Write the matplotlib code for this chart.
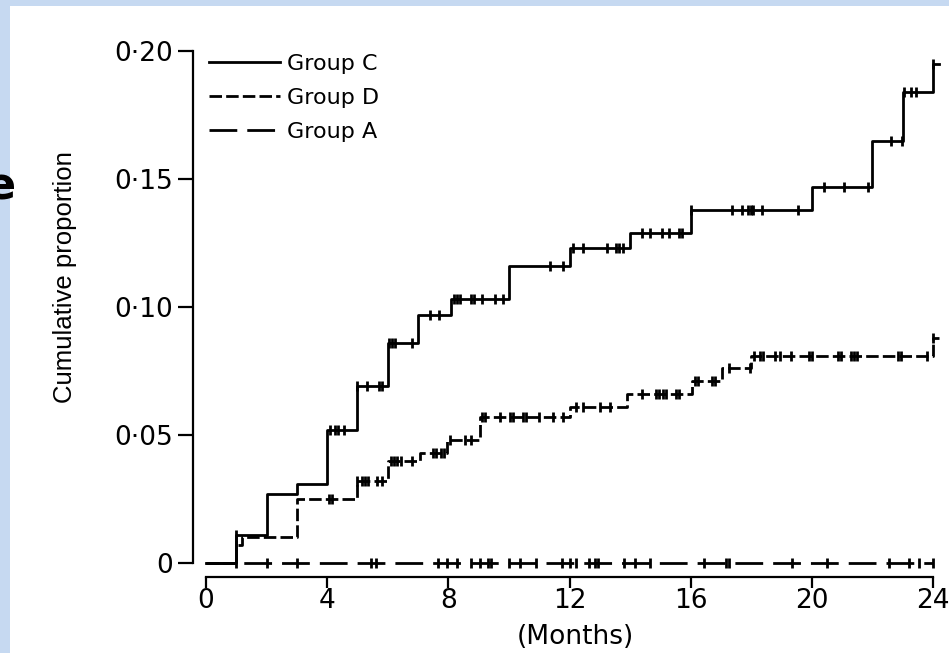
import numpy as np
import matplotlib
matplotlib.use("Agg")
import matplotlib.pyplot as plt
from matplotlib.patches import Rectangle

W, H = 949, 653

# Group C - solid line: step times (months) and cumulative proportion after each step
c_times = [0, 1.0, 2.0, 3.0, 4.0, 5.0, 6.0, 7.0, 8.1, 10.0, 12.0, 14.0, 16.0, 20.0, 22.0, 23.0, 24.0, 24.2]
c_cum = [0, 0.011, 0.027, 0.031, 0.052, 0.069, 0.086, 0.097, 0.103, 0.116, 0.123, 0.129,
         0.138, 0.147, 0.165, 0.184, 0.195, 0.195]
c_censored = [1.0, 4.1, 4.25, 4.35, 4.55, 5.0, 5.3, 5.7, 5.8, 6.05, 6.15, 6.25, 6.8, 7.4, 7.7,
              8.2, 8.3, 8.4, 8.75, 8.85, 9.1, 9.55, 9.8, 11.35, 11.8, 12.1, 12.45, 13.25,
              13.55, 13.65, 13.75, 14.4, 14.65, 15.05, 15.3, 15.6, 15.7, 16.0, 17.35, 17.7,
              17.9, 18.0, 18.05, 18.35, 19.55, 20.4, 21.05, 21.85, 22.6, 22.97, 23.05, 23.27,
              23.45, 24.0]

# Group D - short dashes
d_times = [0, 1.0, 1.2, 3.0, 5.0, 6.0, 7.05, 7.95, 9.05, 12.0, 13.9, 16.05, 17.05, 18.0, 24.0, 24.2]
d_cum = [0, 0.007, 0.010, 0.025, 0.032, 0.040, 0.043, 0.048, 0.057, 0.061, 0.066, 0.071,
         0.076, 0.081, 0.088, 0.088]
d_censored = [1.0, 4.05, 4.15, 5.0, 5.15, 5.25, 5.35, 5.65, 5.8, 6.1, 6.2, 6.3, 6.45, 6.8,
              7.5, 7.6, 7.75, 7.85, 8.05, 8.55, 8.75, 9.1, 9.2, 9.7, 10.05, 10.15, 10.45,
              10.55, 11.0, 11.45, 11.8, 12.2, 12.45, 13.0, 13.35, 14.4, 14.85, 14.95, 15.1,
              15.2, 15.5, 15.6, 16.15, 16.25, 16.7, 16.8, 17.25, 17.95, 18.1, 18.3, 18.4,
              18.8, 18.95, 19.3, 19.9, 20.0, 20.85, 20.95, 21.3, 21.4, 21.5, 22.85, 22.95,
              23.8, 24.0]

# Group A - long dashes, no events
a_times = [0, 24.0]
a_cum = [0, 0]
a_censored = [1.0, 2.0, 3.0, 5.45, 5.6, 7.65, 7.95, 8.3, 8.75, 9.05, 9.3, 9.4, 10.0, 10.35,
              10.9, 11.75, 12.0, 12.2, 12.65, 12.85, 12.95, 13.8, 14.15, 14.65, 16.45, 17.15,
              17.25, 19.35, 20.5, 22.55, 23.2, 23.55, 24.0]

x_ticks = [0, 4, 8, 12, 16, 20, 24]
y_ticks = [0, 0.05, 0.10, 0.15, 0.20]
y_ticklabels = ["0", "0\u00b705", "0\u00b710", "0\u00b715", "0\u00b720"]


def level_at(times, cum, t):
    idx = np.searchsorted(times, t, side="right") - 1
    return np.asarray(cum)[idx]


plt.rcParams["font.family"] = "DejaVu Sans"

fig = plt.figure(figsize=(W / 100, H / 100), dpi=100)
fig.patch.set_facecolor("#c6d9f1")
fig.add_artist(Rectangle((10 / W, 0), 1, 1 - 6 / H, transform=fig.transFigure,
                         facecolor="white", edgecolor="none", zorder=-5))
# cut-off letter at the left edge, as in the source picture
fig.text(15 / W, 1 - 200 / H, "e", ha="right", va="baseline", fontsize=32,
         fontweight="bold", color="black")

ax = fig.add_axes([206 / W, (H - 563) / H, (933 - 206) / W, (563 - 51) / H])
ax.patch.set_visible(False)
ax.set_xlim(0, 24)
ax.set_ylim(0, 0.2)

lw = 2.0
lc, = ax.step(c_times, c_cum, where="post", color="black", lw=lw, clip_on=False,
              label="Group C")
ld, = ax.step(d_times, d_cum, where="post", color="black", lw=lw, clip_on=False,
              dashes=(4.5, 1.5), label="Group D")
la, = ax.step(a_times, a_cum, where="post", color="black", lw=lw, clip_on=False,
              dashes=(10, 3.6), label="Group A")

for t_list, times, cum in [(c_censored, c_times, c_cum), (d_censored, d_times, d_cum),
                           (a_censored, a_times, a_cum)]:
    ax.plot(t_list, level_at(times, cum, t_list), ls="none", marker="|", ms=7, mew=2.0,
            color="black", clip_on=False)

for s in ["top", "right"]:
    ax.spines[s].set_visible(False)
ax.spines["left"].set_position(("outward", 9.4))
ax.spines["bottom"].set_position(("outward", 10))
ax.spines["left"].set_bounds(0, 0.2)
ax.spines["bottom"].set_bounds(0, 24)
for s in ["left", "bottom"]:
    ax.spines[s].set_linewidth(1.6)

ax.set_xticks(x_ticks)
ax.set_xticklabels([str(v) for v in x_ticks])
ax.set_yticks(y_ticks)
ax.set_yticklabels(y_ticklabels)
ax.tick_params(axis="y", length=11, width=1.6, pad=3, labelsize=19)
ax.tick_params(axis="x", length=8, width=1.6, pad=0, labelsize=19)

ax.set_xlabel("(Months)", fontsize=19)
ax.xaxis.set_label_coords((575 - 206) / 727, (563 - 637) / 512)
ax.xaxis.label.set_va("center")
ax.set_ylabel("Cumulative proportion", fontsize=18.5, family="Liberation Sans")
ax.yaxis.set_label_coords((65 - 206) / 727, (563 - 277) / 512)
ax.yaxis.label.set_va("center")

ax.legend(handles=[lc, ld, la], loc="upper left",
          bbox_to_anchor=((209 - 206) / 727, (563 - 54) / 512), frameon=False,
          fontsize=16, handlelength=3.2, handletextpad=0.3, labelspacing=0.62,
          borderpad=0, borderaxespad=0)

fig.savefig("out.png", dpi=100, facecolor=fig.get_facecolor())
